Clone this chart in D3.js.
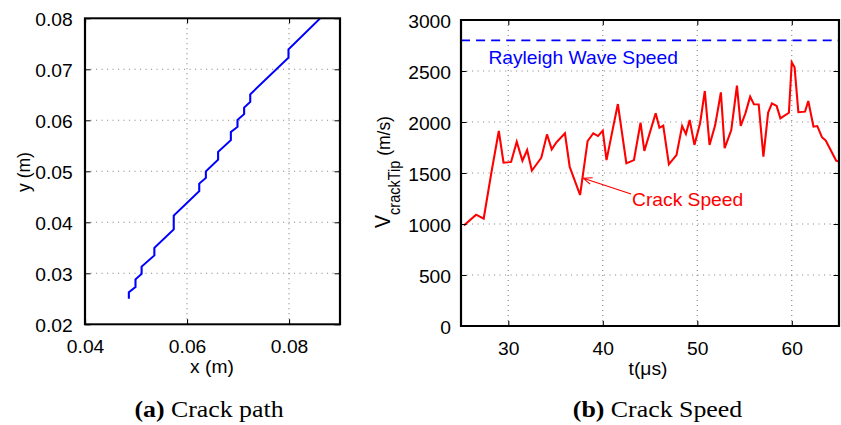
<!DOCTYPE html>
<html>
<head>
<meta charset="utf-8">
<script src="https://cdn.jsdelivr.net/npm/d3@7"></script>
<style>
  body { margin: 0; background: #fff; }
  svg { display: block; }
</style>
</head>
<body>
<div id="container"></div>
<script>
// crack path (m)
const pathX = [0.0486, 0.0486, 0.0499, 0.0499, 0.0511, 0.0511, 0.0536, 0.0536, 0.0574, 0.0574,
  0.0624, 0.0624, 0.0637, 0.0637, 0.0661, 0.0661, 0.0686, 0.0686, 0.0699, 0.0699,
  0.0712, 0.0712, 0.0724, 0.0724, 0.0799, 0.0799, 0.0861];
const pathY = [0.0250, 0.0263, 0.0273, 0.0288, 0.0299, 0.0313, 0.0335, 0.0350, 0.0386, 0.0413,
  0.0461, 0.0476, 0.0487, 0.0500, 0.0523, 0.0538, 0.0561, 0.0577, 0.0587, 0.0601,
  0.0612, 0.0625, 0.0636, 0.0651, 0.0723, 0.0739, 0.0800];

// crack tip speed: time (µs) and speed (m/s)
const speedT = [25.3, 26.6, 27.4, 28.2, 29.0, 29.5, 30.3, 30.9, 31.5, 32.0,
  32.5, 33.5, 34.1, 34.6, 35.1, 36.0, 36.5, 37.6, 38.4, 39.0,
  39.5, 40.0, 40.4, 41.1, 41.6, 42.5, 43.3, 44.0, 44.4, 45.6,
  46.0, 46.4, 47.0, 47.8, 48.4, 48.8, 49.2, 49.7, 50.3, 50.8,
  51.3, 51.9, 52.5, 52.9, 53.6, 54.2, 54.6, 55.1, 55.6, 56.0,
  56.5, 57.0, 57.5, 57.9, 58.4, 58.8, 59.7, 60.0, 60.3, 60.7,
  61.4, 61.75, 62.3, 62.7, 63.2, 63.6, 64.7, 65.0];
const speedV = [985, 1091, 1052, 1497, 1912, 1601, 1608, 1807, 1621, 1725,
  1523, 1650, 1879, 1732, 1801, 1889, 1562, 1284, 1814, 1889,
  1863, 1915, 1627, 1950, 2176, 1595, 1627, 1993, 1716, 2085,
  1944, 1965, 1585, 1676, 1961, 1882, 2020, 1775, 1987, 2304,
  1775, 1970, 2291, 1742, 1921, 2356, 1961, 2085, 2248, 2173,
  2173, 1660, 2091, 2183, 2157, 2036, 2091, 2585, 2536, 2095,
  2101, 2206, 1954, 1961, 1850, 1817, 1621, 1611];

const rayleighSpeed = 2800;

const pathXTicks = [0.04, 0.06, 0.08];
const pathYTicks = [0.02, 0.03, 0.04, 0.05, 0.06, 0.07, 0.08];
const speedTTicks = [30, 40, 50, 60];
const speedVTicks = [0, 500, 1000, 1500, 2000, 2500, 3000];

// where the annotations sit, in data units
const rayleighLabel = [27.9, 2565];
const crackLabel = [43.1, 1179];
const arrowFrom = [43.0, 1294];
const arrowTo = [37.95, 1448];

let w = 841;
let h = 425;
let sx = 1.1; // the source figure is stretched sideways a bit
let vx = px => px / sx;

let sans = "'Liberation Sans', Arial, Helvetica, sans-serif";
let serif = "'Liberation Serif', 'Times New Roman', serif";

let viz = d3.select("#container")
  .append("svg")
  .attr("width", w)
  .attr("height", h);

let root = viz.append("g").attr("transform", `scale(${sx},1)`);

// ---------- left: crack path ----------
let xPath = d3.scaleLinear().domain([0.04, 0.09]).range([vx(85), vx(340)]);
let yPath = d3.scaleLinear().domain([0.02, 0.08]).range([324.3, 18.3]);

// ---------- right: crack speed ----------
let xSpeed = d3.scaleLinear().domain([25, 65]).range([vx(461), vx(839)]);
let ySpeed = d3.scaleLinear().domain([0, 3000]).range([326, 20]);

function drawGrid(g, xs, ys, xt, yt) {
  let [x0, x1] = xs.domain();
  let [y0, y1] = ys.domain();
  g.selectAll(".vgrid").data(xt.filter(d => d > x0 && d < x1)).enter()
    .append("line")
    .attr("x1", d => xs(d)).attr("x2", d => xs(d))
    .attr("y1", ys(y0)).attr("y2", ys(y1))
    .attr("stroke", "#8a8a8a")
    .attr("stroke-width", 1.1)
    .attr("stroke-dasharray", "1,4");
  g.selectAll(".hgrid").data(yt.filter(d => d > y0 && d < y1)).enter()
    .append("line")
    .attr("x1", xs(x0)).attr("x2", xs(x1))
    .attr("y1", d => ys(d)).attr("y2", d => ys(d))
    .attr("stroke", "#8a8a8a")
    .attr("stroke-width", 1.1)
    .attr("stroke-dasharray", "1,4");
}

function drawAxes(g, xs, ys, xt, yt, xfmt, yfmt, yPad) {
  let [x0, x1] = xs.domain();
  let [y0, y1] = ys.domain();

  let bottom = g.append("g")
    .attr("transform", `translate(0,${ys(y0)})`)
    .call(d3.axisBottom(xs).tickValues(xt).tickFormat(xfmt)
      .tickSizeInner(-5).tickSizeOuter(0).tickPadding(16.5));
  let left = g.append("g")
    .attr("transform", `translate(${xs(x0)},0)`)
    .call(d3.axisLeft(ys).tickValues(yt).tickFormat(yfmt)
      .tickSizeInner(-5).tickSizeOuter(0).tickPadding(yPad));
  let top = g.append("g")
    .attr("transform", `translate(0,${ys(y1)})`)
    .call(d3.axisTop(xs).tickValues(xt).tickFormat("")
      .tickSizeInner(-5).tickSizeOuter(0));
  let right = g.append("g")
    .attr("transform", `translate(${xs(x1)},0)`)
    .call(d3.axisRight(ys).tickValues(yt).tickFormat("")
      .tickSizeInner(-5).tickSizeOuter(0));

  [bottom, left, top, right].forEach(a => {
    a.select(".domain").remove();
    a.selectAll(".tick line").attr("stroke", "#000").attr("stroke-width", 1);
    a.selectAll("text")
      .attr("fill", "#000")
      .style("font-family", sans)
      .style("font-size", "17.5px");
  });
  left.selectAll("text").attr("dy", "0.42em");

  g.append("rect")
    .attr("x", xs(x0)).attr("y", ys(y1))
    .attr("width", xs(x1) - xs(x0))
    .attr("height", ys(y0) - ys(y1))
    .attr("fill", "none")
    .attr("stroke", "#000")
    .attr("stroke-width", 2);
}

let leftPanel = root.append("g");
drawGrid(leftPanel, xPath, yPath, pathXTicks, pathYTicks);

let pathLine = d3.line()
  .x(d => xPath(d[0]))
  .y(d => yPath(d[1]));

leftPanel.append("path")
  .datum(pathX.map((x, i) => [x, pathY[i]]))
  .attr("d", pathLine)
  .attr("fill", "none")
  .attr("stroke", "#0000ff")
  .attr("stroke-width", 1.9);

drawAxes(leftPanel, xPath, yPath, pathXTicks, pathYTicks,
  d3.format(".2f"), d3.format(".2f"), 11.2);

leftPanel.append("text")
  .attr("x", vx(212))
  .attr("y", 373)
  .attr("text-anchor", "middle")
  .style("font-family", sans)
  .style("font-size", "17.5px")
  .text("x (m)");

leftPanel.append("text")
  .attr("transform", `translate(${vx(30)},172) rotate(-90)`)
  .attr("text-anchor", "middle")
  .style("font-family", sans)
  .style("font-size", "17.5px")
  .text("y (m)");

let capA = leftPanel.append("text")
  .attr("x", vx(209))
  .attr("y", 417)
  .attr("text-anchor", "middle")
  .style("font-family", serif)
  .style("font-size", "23.5px");
capA.append("tspan").attr("font-weight", "bold").text("(a)");
capA.append("tspan").text(" Crack path");

// right panel
let rightPanel = root.append("g");
drawGrid(rightPanel, xSpeed, ySpeed, speedTTicks, speedVTicks);

rightPanel.append("line")
  .attr("x1", xSpeed(25)).attr("x2", xSpeed(65))
  .attr("y1", ySpeed(rayleighSpeed)).attr("y2", ySpeed(rayleighSpeed))
  .attr("stroke", "#0000ff")
  .attr("stroke-width", 1.7)
  .attr("stroke-dasharray", "8.2,5.5");

let speedLine = d3.line()
  .x(d => xSpeed(d[0]))
  .y(d => ySpeed(d[1]));

rightPanel.append("path")
  .datum(speedT.map((t, i) => [t, speedV[i]]))
  .attr("d", speedLine)
  .attr("fill", "none")
  .attr("stroke", "#ff0000")
  .attr("stroke-width", 1.9)
  .attr("stroke-linejoin", "miter");

drawAxes(rightPanel, xSpeed, ySpeed, speedTTicks, speedVTicks,
  d3.format("d"), d3.format("d"), 9.1);

rightPanel.append("text")
  .attr("x", xSpeed(rayleighLabel[0]))
  .attr("y", ySpeed(rayleighLabel[1]))
  .attr("fill", "#0000ff")
  .style("font-family", sans)
  .style("font-size", "17.5px")
  .text("Rayleigh Wave Speed");

rightPanel.append("text")
  .attr("x", xSpeed(crackLabel[0]))
  .attr("y", ySpeed(crackLabel[1]))
  .attr("fill", "#ff0000")
  .style("font-family", sans)
  .style("font-size", "17.5px")
  .text("Crack Speed");

// arrow towards the dip in the speed curve
let ax0 = xSpeed(arrowFrom[0]), ay0 = ySpeed(arrowFrom[1]);
let ax1 = xSpeed(arrowTo[0]), ay1 = ySpeed(arrowTo[1]);
let ang = Math.atan2(ay0 - ay1, ax0 - ax1);
let headLen = 8.5, headAng = 0.42;
rightPanel.append("path")
  .attr("d", `M${ax0},${ay0}L${ax1},${ay1}` +
    `M${ax1 + headLen * Math.cos(ang + headAng)},${ay1 + headLen * Math.sin(ang + headAng)}` +
    `L${ax1},${ay1}` +
    `L${ax1 + headLen * Math.cos(ang - headAng)},${ay1 + headLen * Math.sin(ang - headAng)}`)
  .attr("fill", "none")
  .attr("stroke", "#ff0000")
  .attr("stroke-width", 1.1);

rightPanel.append("text")
  .attr("x", vx(648))
  .attr("y", 375)
  .attr("text-anchor", "middle")
  .style("font-family", sans)
  .style("font-size", "17.5px")
  .text("t(\u03bcs)");

let yLab = rightPanel.append("text")
  .attr("transform", `translate(${vx(390)},172) rotate(-90)`)
  .attr("text-anchor", "middle")
  .style("font-family", sans)
  .style("font-size", "17.5px");
yLab.append("tspan").style("font-size", "19.5px").text("V");
yLab.append("tspan").attr("dy", 9).style("font-size", "14.5px").text("crackTip");
yLab.append("tspan").attr("dy", -9).text(" (m/s)");

let capB = rightPanel.append("text")
  .attr("x", vx(657.5))
  .attr("y", 417)
  .attr("text-anchor", "middle")
  .style("font-family", serif)
  .style("font-size", "23.5px");
capB.append("tspan").attr("font-weight", "bold").text("(b)");
capB.append("tspan").text(" Crack Speed");
</script>
</body>
</html>
